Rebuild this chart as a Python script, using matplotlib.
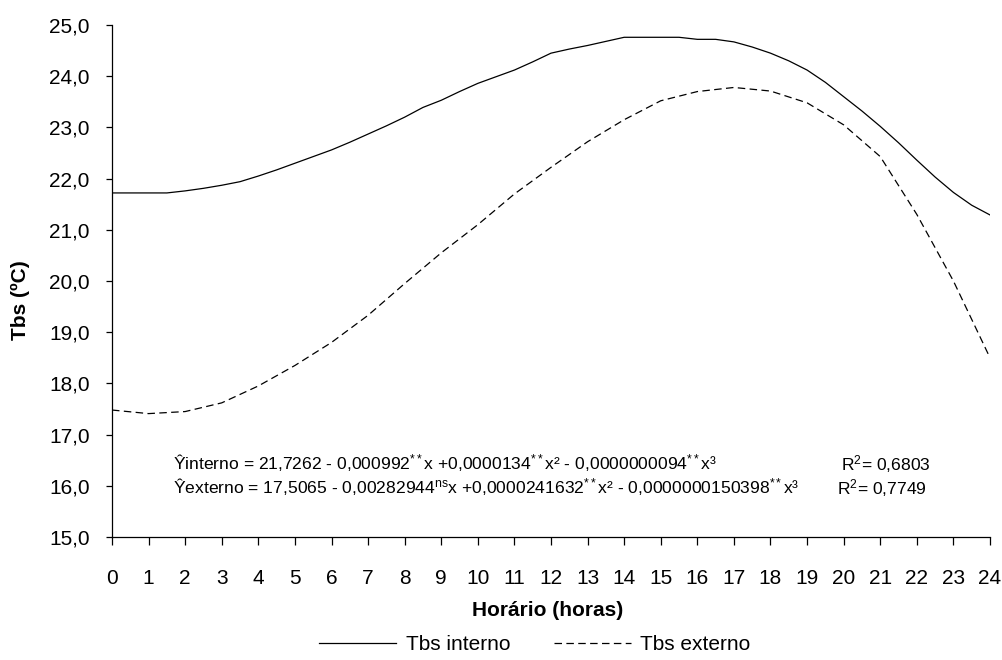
"""Tbs interno x externo ao longo do dia."""
import matplotlib
matplotlib.use("Agg")
import matplotlib.pyplot as plt
from matplotlib.ticker import FuncFormatter, MultipleLocator

plt.rcParams["font.family"] = ["Liberation Sans", "DejaVu Sans"]
plt.rcParams["mathtext.fontset"] = "custom"
plt.rcParams["mathtext.rm"] = "Liberation Sans"
plt.rcParams["mathtext.it"] = "Liberation Sans:italic"
plt.rcParams["mathtext.bf"] = "Liberation Sans:bold"

# Tbs interno (meia em meia hora)
hora_int = [0, 0.5, 1, 1.5, 2, 2.5, 3, 3.5, 4, 4.5, 5, 5.5, 6, 6.5, 7, 7.5, 8, 8.5,
            9, 9.5, 10, 10.5, 11, 11.5, 12, 12.5, 13, 13.5, 14, 14.5, 15, 15.5, 16,
            16.5, 17, 17.5, 18, 18.5, 19, 19.5, 20, 20.5, 21, 21.5, 22, 22.5, 23,
            23.5, 24]
tbs_interno = [21.72, 21.72, 21.72, 21.72, 21.76, 21.81, 21.87, 21.94, 22.05, 22.17,
               22.30, 22.43, 22.56, 22.71, 22.87, 23.03, 23.20, 23.39, 23.53, 23.70,
               23.86, 23.99, 24.12, 24.28, 24.45, 24.53, 24.60, 24.68, 24.76, 24.76,
               24.76, 24.76, 24.72, 24.72, 24.67, 24.57, 24.45, 24.30, 24.12, 23.88,
               23.60, 23.32, 23.02, 22.70, 22.36, 22.03, 21.73, 21.48, 21.29]

# Tbs externo (hora em hora)
hora_ext = list(range(25))
tbs_externo = [17.48, 17.41, 17.45, 17.62, 17.95, 18.35, 18.80, 19.33, 19.95, 20.55,
               21.10, 21.70, 22.22, 22.72, 23.15, 23.52, 23.70, 23.78, 23.71, 23.48,
               23.05, 22.43, 21.30, 20.00, 18.50]

eq_interno = (r"Ŷinterno = 21,7262 - 0,000992$^{**}$x +0,0000134$^{**}$x² - "
              r"0,0000000094$^{**}$x³")
eq_externo = (r"Ŷexterno = 17,5065 - 0,00282944$^{\mathrm{ns}}$x +0,0000241632$^{**}$x² - "
              r"0,0000000150398$^{**}$x³")
r2_interno = r"R$^{2}$= 0,6803"
r2_externo = r"R$^{2}$= 0,7749"

W, H = 1002, 660
fig = plt.figure(figsize=(W / 100, H / 100), dpi=100)
ax = fig.add_axes([112 / W, 1 - 537 / H, (990 - 112) / W, (537 - 25) / H])

ax.plot(hora_int, tbs_interno, color="black", linewidth=0.9, label="Tbs interno")
ax.plot(hora_ext, tbs_externo, color="black", linewidth=0.9, dashes=(6, 3.5),
        label="Tbs externo")

ax.set_xlim(0, 24)
ax.set_ylim(15, 25)
ax.xaxis.set_major_locator(MultipleLocator(1))
ax.yaxis.set_major_locator(MultipleLocator(1))
ax.yaxis.set_major_formatter(FuncFormatter(lambda v, p: f"{v:.1f}".replace(".", ",")))
ax.spines["top"].set_visible(False)
ax.spines["right"].set_visible(False)
for s in ("left", "bottom"):
    ax.spines[s].set_linewidth(0.9)
ax.tick_params(axis="y", direction="out", length=4, width=0.9, pad=12, labelsize=15)
ax.tick_params(axis="x", direction="out", length=6, width=0.9, pad=17, labelsize=15)

fig.text(20 / W, 1 - 300 / H, "Tbs (ºC)", rotation=90, fontsize=15, fontweight="bold",
         ha="center", va="center")
fig.text(548 / W, 1 - 610 / H, "Horário (horas)", fontsize=15, fontweight="bold",
         ha="center", va="center")

fig.text(173 / W, 1 - 470 / H, eq_interno, fontsize=12.6, ha="left", va="baseline")
fig.text(173 / W, 1 - 494 / H, eq_externo, fontsize=12.6, ha="left", va="baseline")
fig.text(841 / W, 1 - 470 / H, r2_interno, fontsize=12.6, ha="left", va="baseline")
fig.text(837 / W, 1 - 494 / H, r2_externo, fontsize=12.6, ha="left", va="baseline")

fig.legend(loc="center", bbox_to_anchor=(535 / W, 1 - 645 / H), ncol=2, frameon=False,
           fontsize=15, handlelength=3.7, handletextpad=0.45, columnspacing=2.1)

fig.savefig("out.png", dpi=100)
plt.close(fig)
